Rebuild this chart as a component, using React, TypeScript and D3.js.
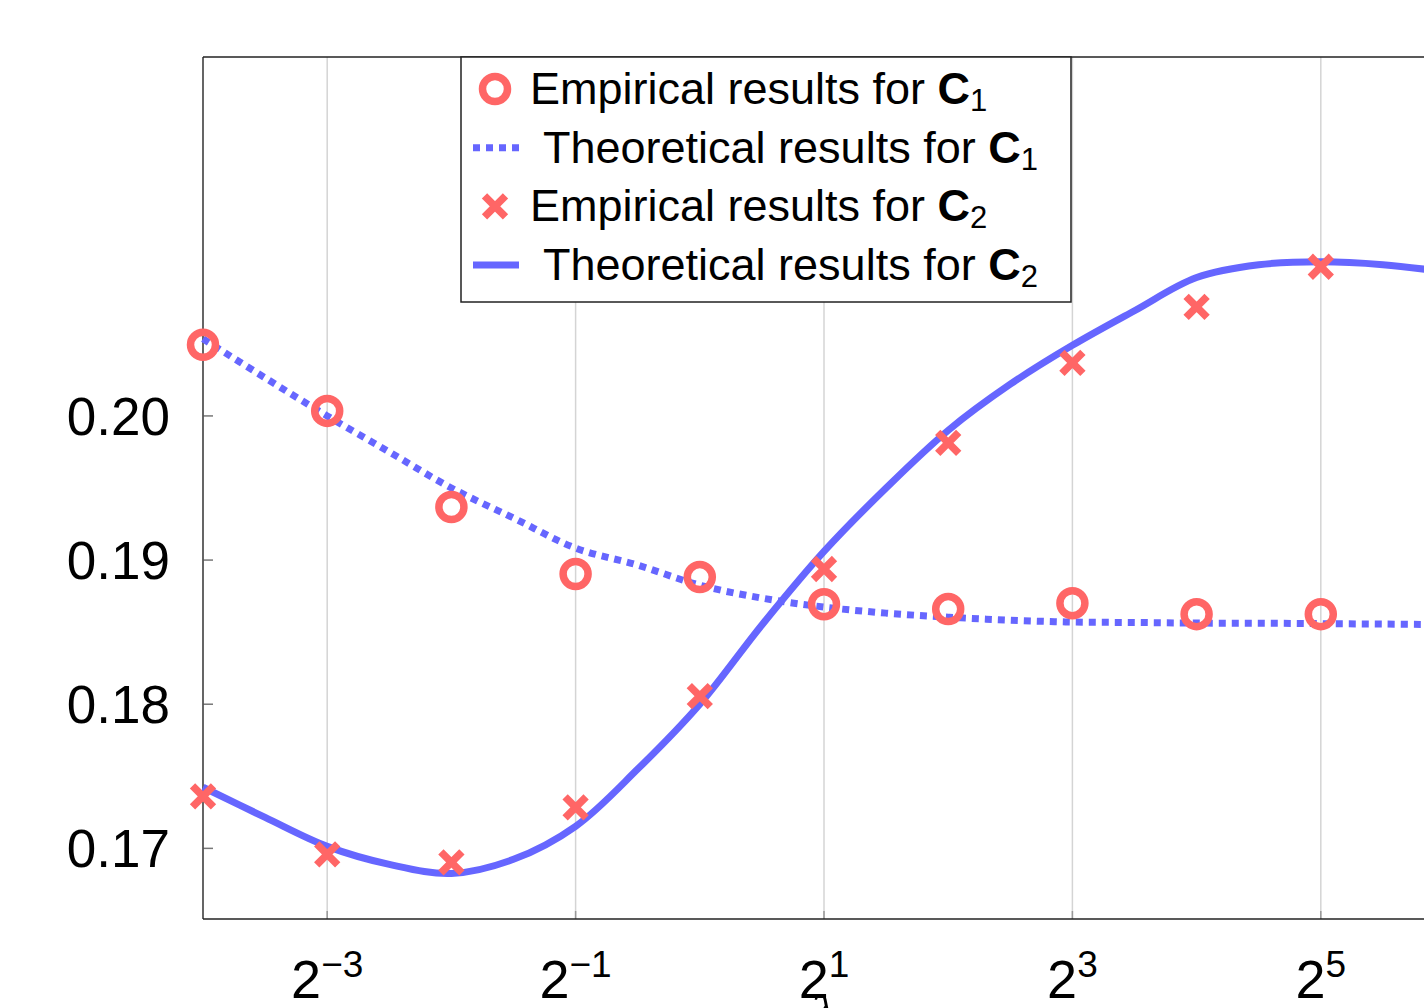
import React, { useEffect, useRef } from 'react';
import * as d3 from 'd3';

// exponents of 2 on the x axis
const empExps = [-4, -3, -2, -1, 0, 1, 2, 3, 4, 5];
const empC1 = [0.20493, 0.20035, 0.19368, 0.18903, 0.18882, 0.18694, 0.1866, 0.18701, 0.18625, 0.18625];
const empC2 = [0.17361, 0.16958, 0.16903, 0.17285, 0.18056, 0.18938, 0.19813, 0.20368, 0.20757, 0.21035];

const theoExps = [-4, -3.5, -3, -2.5, -2, -1.5, -1, -0.5, 0, 0.5, 1, 1.5, 2, 2.5, 3, 3.5, 4, 4.5, 5, 5.5, 6];
const theoC1 = [0.20535, 0.20264, 0.2, 0.1975, 0.195, 0.19292, 0.19083, 0.18965, 0.18826, 0.18736, 0.18674,
  0.18632, 0.18604, 0.18583, 0.1857, 0.18567, 0.18563, 0.18562, 0.18559, 0.18556, 0.18552];
const theoC2 = [0.17424, 0.17215, 0.17014, 0.16889, 0.16826, 0.16924, 0.17153, 0.1755, 0.18, 0.1855, 0.1906,
  0.1950, 0.1990, 0.2022, 0.2049, 0.2073, 0.2096, 0.21049, 0.21069, 0.21049, 0.21];

const yTicks = [0.17, 0.18, 0.19, 0.2];
const labelExps = [-3, -1, 1, 3, 5];

const legendItems = [
  { kind: 'circle', text: 'Empirical results for ', sub: '1' },
  { kind: 'dots', text: 'Theoretical results for ', sub: '1' },
  { kind: 'cross', text: 'Empirical results for ', sub: '2' },
  { kind: 'solid', text: 'Theoretical results for ', sub: '2' },
];

const RED = '#ff6666';
const BLUE = '#6666ff';
const FONT = '"Liberation Sans", Arial, Helvetica, sans-serif';

const App = () => {
  const ref = useRef<SVGSVGElement>(null);

  useEffect(() => {
    const svg = d3.select(ref.current);
    svg.selectAll('*').remove();

    const left = 203, right = 1445, top = 57, bottom = 919;
    const x = d3.scaleLog().base(2).domain([2 ** -4, 2 ** 6]).range([left, right]);
    const y = d3.scaleLinear().domain([0.1651, 0.2249]).range([bottom, top]);

    // grid (only at labelled ticks)
    svg.append('g').selectAll('line').data(labelExps).enter().append('line')
      .attr('x1', d => x(2 ** d)).attr('x2', d => x(2 ** d))
      .attr('y1', top).attr('y2', bottom)
      .attr('stroke', '#d4d4d4').attr('stroke-width', 1.5);

    svg.append('g').selectAll('line').data(labelExps).enter().append('line')
      .attr('x1', d => x(2 ** d)).attr('x2', d => x(2 ** d))
      .attr('y1', bottom).attr('y2', bottom - 8)
      .attr('stroke', '#999').attr('stroke-width', 1.5);

    // y ticks
    svg.append('g').selectAll('line').data(yTicks).enter().append('line')
      .attr('x1', left).attr('x2', left + 10)
      .attr('y1', d => y(d)).attr('y2', d => y(d))
      .attr('stroke', '#777').attr('stroke-width', 1.5);

    // frame
    svg.append('line').attr('x1', left).attr('x2', left).attr('y1', top).attr('y2', bottom)
      .attr('stroke', '#555').attr('stroke-width', 1.8);
    svg.append('line').attr('x1', left).attr('x2', right).attr('y1', bottom).attr('y2', bottom)
      .attr('stroke', '#222').attr('stroke-width', 1.5);
    svg.append('line').attr('x1', left).attr('x2', right).attr('y1', top).attr('y2', top)
      .attr('stroke', '#222').attr('stroke-width', 1.5);

    // y labels
    svg.append('g').selectAll('text').data(yTicks).enter().append('text')
      .attr('x', 170).attr('y', d => y(d) + 19)
      .attr('text-anchor', 'end')
      .style('font-family', FONT).style('font-size', '53px').attr('fill', '#000')
      .text(d => d3.format('.2f')(d));

    // x labels
    const xl = svg.append('g').selectAll('text').data(labelExps).enter().append('text')
      .attr('x', d => x(2 ** d)).attr('y', 998)
      .attr('text-anchor', 'middle')
      .style('font-family', FONT).attr('fill', '#000');
    xl.append('tspan').style('font-size', '54px').text('2');
    xl.append('tspan').style('font-size', '37px').attr('dy', -21)
      .text(d => (d < 0 ? '\u2212' : '') + Math.abs(d));

    // axis label, cut off by the bottom edge
    svg.append('text').attr('x', 824).attr('y', 1032).attr('text-anchor', 'middle')
      .style('font-family', '"DejaVu Serif", serif').style('font-style', 'italic')
      .style('font-size', '50px').text('\u03bb');

    const line = d3.line<[number, number]>()
      .x(d => x(2 ** d[0])).y(d => y(d[1]))
      .curve(d3.curveCatmullRom.alpha(0.5));

    const plot = svg.append('g');
    plot.append('path').attr('d', line(theoExps.map((e, i) => [e, theoC1[i]])))
      .attr('fill', 'none').attr('stroke', BLUE).attr('stroke-width', 7)
      .attr('stroke-dasharray', '7 6');
    plot.append('path').attr('d', line(theoExps.map((e, i) => [e, theoC2[i]])))
      .attr('fill', 'none').attr('stroke', BLUE).attr('stroke-width', 7);

    plot.selectAll('circle.c1').data(empExps).enter().append('circle')
      .attr('cx', d => x(2 ** d)).attr('cy', (d, i) => y(empC1[i])).attr('r', 12.5)
      .attr('fill', 'none').attr('stroke', RED).attr('stroke-width', 7.5);

    const cs = 10.5;
    const crossPath = (cx: number, cy: number) =>
      `M${cx - cs},${cy - cs}L${cx + cs},${cy + cs}M${cx - cs},${cy + cs}L${cx + cs},${cy - cs}`;
    plot.selectAll('path.c2').data(empExps).enter().append('path')
      .attr('d', (d, i) => crossPath(x(2 ** d), y(empC2[i])))
      .attr('stroke', RED).attr('stroke-width', 7.5).attr('fill', 'none');

    // legend
    const lg = svg.append('g');
    lg.append('rect').attr('x', 461).attr('y', 57).attr('width', 610).attr('height', 245)
      .attr('fill', '#fff').attr('stroke', '#222').attr('stroke-width', 1.5);
    legendItems.forEach((it, i) => {
      const cy = 89 + i * 58.7;
      if (it.kind === 'circle') {
        lg.append('circle').attr('cx', 495).attr('cy', cy).attr('r', 12.5)
          .attr('fill', 'none').attr('stroke', RED).attr('stroke-width', 7.5);
      } else if (it.kind === 'cross') {
        lg.append('path').attr('d', crossPath(495, cy)).attr('stroke', RED)
          .attr('stroke-width', 7.5).attr('fill', 'none');
      } else {
        lg.append('line').attr('x1', 473).attr('x2', 519).attr('y1', cy).attr('y2', cy)
          .attr('stroke', BLUE).attr('stroke-width', 7)
          .attr('stroke-dasharray', it.kind === 'dots' ? '7 6' : null);
      }
      const t = lg.append('text')
        .attr('x', it.kind === 'circle' || it.kind === 'cross' ? 530 : 543)
        .attr('y', cy + 15)
        .style('font-family', FONT).style('font-size', '45px').attr('fill', '#000');
      t.append('tspan').text(it.text);
      t.append('tspan').style('font-weight', 'bold').text('C');
      t.append('tspan').style('font-size', '31px').attr('dy', 7).text(it.sub);
    });
  }, []);

  return (
    <svg ref={ref} width={1424} height={1008}
      style={{ position: 'absolute', left: 0, top: 0, background: '#fff' }} />
  );
};

export default App;
